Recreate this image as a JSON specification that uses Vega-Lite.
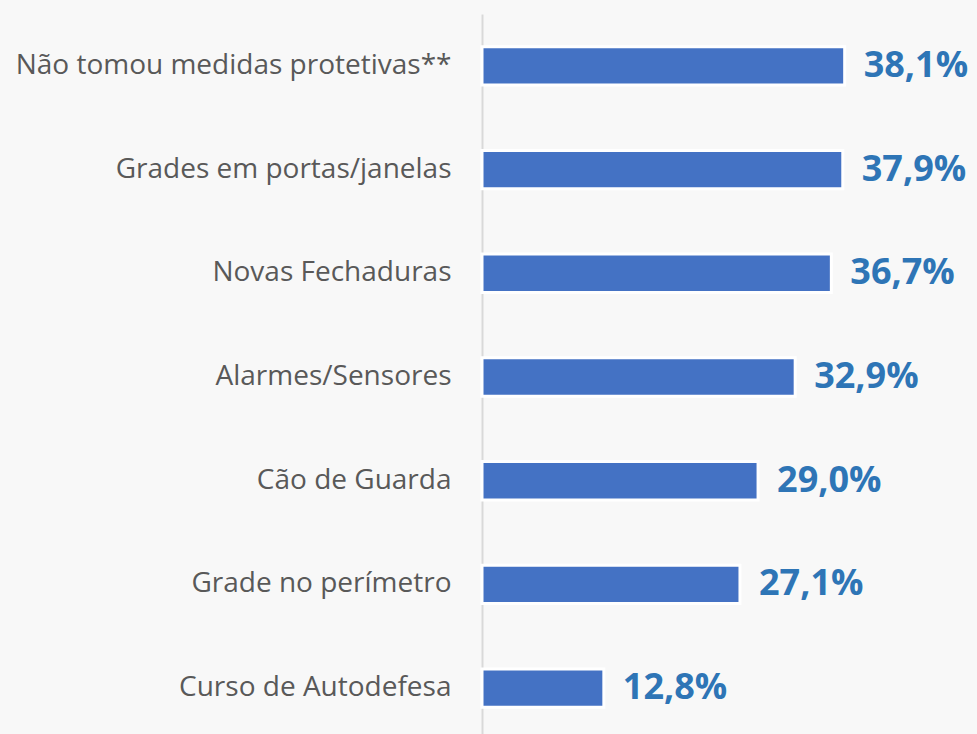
{
  "$schema": "https://vega.github.io/schema/vega-lite/v6.json",
  "width": 495,
  "height": 726,
  "autosize": {"type": "none"},
  "padding": {"left": 482, "top": 14, "right": 0, "bottom": 0},
  "background": "#F8F8F8",
  "config": {"view": {"stroke": null}},
  "data": {
    "values": [
      {"categoria": "Não tomou medidas protetivas**", "valor": 38.1, "rotulo": "38,1%"},
      {"categoria": "Grades em portas/janelas\u00a0", "valor": 37.9, "rotulo": "37,9%"},
      {"categoria": "Novas Fechaduras", "valor": 36.7, "rotulo": "36,7%"},
      {"categoria": "Alarmes/Sensores", "valor": 32.9, "rotulo": "32,9%"},
      {"categoria": "Cão de Guarda", "valor": 29.0, "rotulo": "29,0%"},
      {"categoria": "Grade no perímetro", "valor": 27.1, "rotulo": "27,1%"},
      {"categoria": "Curso de Autodefesa", "valor": 12.8, "rotulo": "12,8%"}
    ]
  },
  "encoding": {
    "y": {
      "field": "categoria",
      "type": "nominal",
      "sort": null,
      "scale": {"paddingInner": 0.63, "paddingOuter": 0.315},
      "axis": {
        "title": null,
        "ticks": false,
        "domainColor": "#D9D9D9",
        "domainWidth": 2,
        "labelFont": "Open Sans",
        "labelFontSize": 28,
        "labelColor": "#595959",
        "labelPadding": 31,
        "labelLimit": 600
      }
    },
    "x": {
      "field": "valor",
      "type": "quantitative",
      "scale": {"domain": [0, 52]},
      "axis": null
    }
  },
  "layer": [
    {
      "mark": {"type": "bar", "color": "#4472C4", "stroke": "#FFFFFF", "strokeWidth": 3}
    },
    {
      "mark": {
        "type": "text",
        "align": "left",
        "baseline": "middle",
        "dx": 19,
        "font": "Open Sans",
        "fontWeight": "bold",
        "fontSize": 36,
        "color": "#2E75B6"
      },
      "encoding": {"text": {"field": "rotulo"}}
    }
  ]
}
